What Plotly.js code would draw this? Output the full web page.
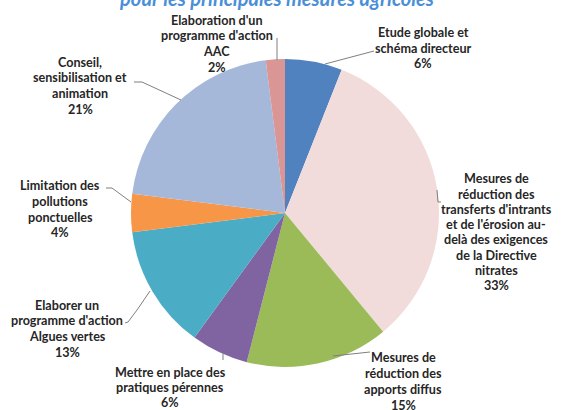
<!DOCTYPE html>
<html>
<head>
<meta charset="utf-8">
<script src="https://cdn.plot.ly/plotly-3.0.1.min.js"></script>
<style>html,body{margin:0;padding:0;background:#fff;}#chart{width:561px;height:410px;}</style>
</head>
<body>
<div id="chart"></div>
<script>
// Data
const categories = [
  "Etude globale et schéma directeur",
  "Mesures de réduction des transferts d'intrants et de l'érosion au-delà des exigences de la Directive nitrates",
  "Mesures de réduction des apports diffus",
  "Mettre en place des pratiques pérennes",
  "Elaborer un programme d'action Algues vertes",
  "Limitation des pollutions ponctuelles",
  "Conseil, sensibilisation et animation",
  "Elaboration d'un programme d'action AAC"
];
const values = [6, 33, 15, 6, 13, 4, 21, 2];
const labelLines = [
  ["Etude globale et", "schéma directeur"],
  ["Mesures de", "réduction des", "transferts d'intrants", "et de l'érosion au-", "delà des exigences", "de la Directive", "nitrates"],
  ["Mesures de", "réduction des", "apports diffus"],
  ["Mettre en place des", "pratiques pérennes"],
  ["Elaborer un", "programme d'action", "Algues vertes"],
  ["Limitation des", "pollutions", "ponctuelles"],
  ["Conseil,", "sensibilisation et", "animation"],
  ["Elaboration d'un", "programme d'action", "AAC"]
];
const titleText = "pour les principales mesures agricoles";

// Styling / layout (pixels)
const W = 561, H = 410;
const colors = ["#5082bf", "#f2dcdb", "#9bbb59", "#8064a2", "#4bacc6", "#f79646", "#a5b8da", "#d99694"];
// [center x, y of first line, line step]
const labelPos = [ [423, 33, 15], [496, 179, 15.2], [403, 357, 16], [170, 372, 15], [67, 305, 15.7], [60, 186, 15.5], [80, 62, 15.8], [217, 20, 15.7] ];
const leaders = [
  [[325, 64], [374, 51]],
  [[437, 190], [438, 202], [441, 202]],
  [[333, 356], [370, 352]],
  [[223, 353], [223, 360]],
  [[150, 291], [137, 310], [128, 322], [125, 323]],
  [[131, 202], [112, 188], [106, 188]],
  [[181, 100], [142, 82], [134, 82]],
  [[277, 60], [277, 38]]
];
const px = x => x / W, py = y => 1 - y / H;

const total = values.reduce((a, b) => a + b, 0);
const annotations = [];
categories.forEach((c, i) => {
  const pct = Math.round(values[i] / total * 100) + "%";
  const lines = labelLines[i].concat([pct]);
  lines.forEach((t, k) => {
    annotations.push({
      xref: "paper", yref: "paper",
      x: px(labelPos[i][0]), y: py(labelPos[i][1] + k * labelPos[i][2]),
      xanchor: "center", yanchor: "middle",
      text: t, showarrow: false,
      font: {family: "Lato, 'Open Sans', sans-serif", size: 12.6, color: "#262626", weight: "bold"}
    });
  });
});
annotations.push({
  xref: "paper", yref: "paper", x: px(276), y: py(-2),
  xanchor: "center", yanchor: "middle", showarrow: false,
  text: "<b><i>" + titleText + "</i></b>",
  font: {family: "Lato, 'Open Sans', sans-serif", size: 20, color: "#4a8fd8"}
});

const shapes = [];
leaders.forEach(pts => {
  for (let k = 0; k < pts.length - 1; k++) {
    shapes.push({type: "line", xref: "paper", yref: "paper",
      x0: px(pts[k][0]), y0: py(pts[k][1]), x1: px(pts[k+1][0]), y1: py(pts[k+1][1]),
      line: {color: "#7f7f7f", width: 1}});
  }
});

const trace = {
  type: "pie",
  labels: categories,
  values: values,
  sort: false,
  direction: "clockwise",
  rotation: 0,
  textinfo: "none",
  hoverinfo: "label+percent",
  marker: {colors: colors, line: {width: 0}},
  domain: {x: [131 / W, 439 / W], y: [1 - 367 / H, 1 - 59 / H]},
  showlegend: false
};

Plotly.newPlot("chart", [trace], {
  width: W, height: H,
  margin: {l: 0, r: 0, t: 0, b: 0},
  paper_bgcolor: "#ffffff",
  annotations: annotations,
  shapes: shapes,
  showlegend: false
}, {displayModeBar: false, staticPlot: true});
</script>
</body>
</html>
